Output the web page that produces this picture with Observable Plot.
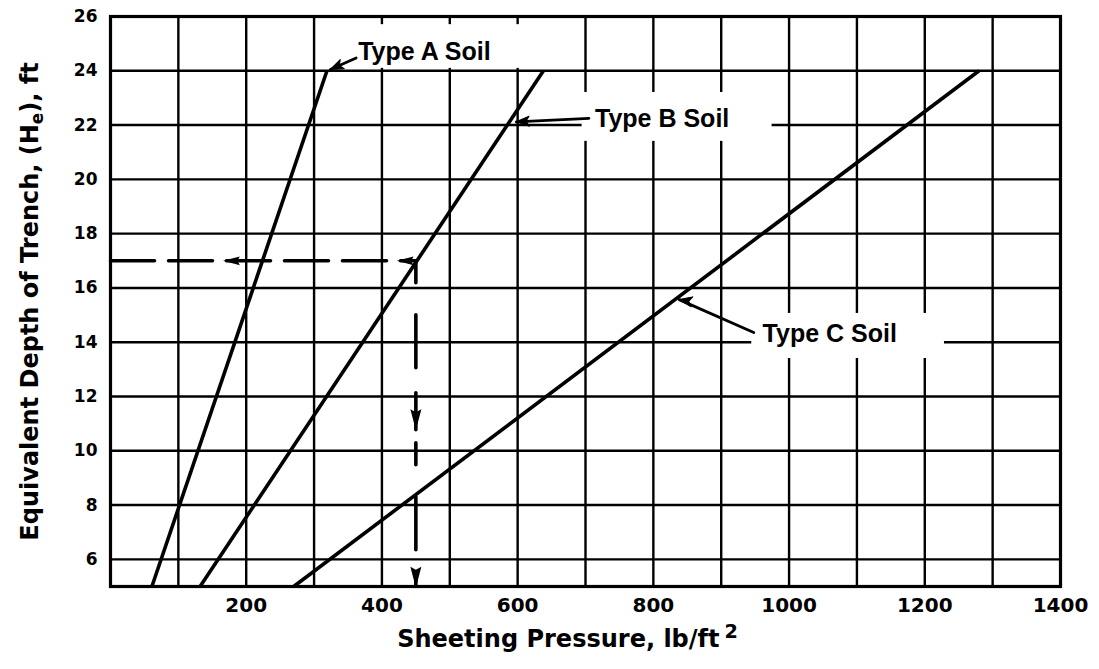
<!DOCTYPE html>
<html>
<head>
<meta charset="utf-8">
<script src="https://cdn.jsdelivr.net/npm/d3@7"></script>
<script src="https://cdn.jsdelivr.net/npm/@observablehq/plot@0.6"></script>
<style>
  html, body { margin: 0; padding: 0; background: #fff; }
</style>
</head>
<body>
<div id="chart"></div>
<script>
// ---- data ----
const soilTypes = ["Type A Soil", "Type B Soil", "Type C Soil"];
const depthEnds = [5, 24];                 // ft, each soil line runs between these depths
const pressureA = [61, 319];               // lb/ft² at depth 5 and 24
const pressureB = [132, 638];
const pressureC = [270, 1280];

const xTicks = [200, 400, 600, 800, 1000, 1200, 1400];
const yTicks = [6, 8, 10, 12, 14, 16, 18, 20, 22, 24, 26];
const xGrid = d3.range(100, 1400, 100);
const yGrid = d3.range(6, 26, 2);

// worked example (dashed)
const exampleDepth = 17;
const examplePressure = 450;
const leftArrowPressures = [180, 436];
const downArrowDepths = [11.2, 5.4];

// label anchors (data units) and leader lines
const labelX = [365, 714, 961];
const labelY = [24.71, 22.24, 14.32];
const leaderFromX = [362, 705, 948];
const leaderFromY = [24.47, 22.25, 14.36];
const leaderToX = [324, 598, 838];
const leaderToY = [24.05, 22.12, 15.57];
const leaderBend = [0, 0, 14];
// white backing boxes behind labels (data units)
const boxX1 = [339, 695, 945];
const boxX2 = [662, 975, 1229];
const boxY1 = [24.09, 21.4, 13.4];
const boxY2 = [25.7, 23.2, 15.06];

const xTitleMain = "Sheeting Pressure, lb/ft";
const xTitleSup = "2";
const yTitleParts = ["Equivalent Depth of Trench, (H", "e", "), ft"];

// ---- build tables ----
const pressures = [pressureA, pressureB, pressureC];
const soilLines = soilTypes.flatMap((s, i) =>
  depthEnds.map((d, j) => ({soil: s, depth: d, pressure: pressures[i][j]})));
const labels = soilTypes.map((s, i) => ({text: s, x: labelX[i], y: labelY[i]}));
const leaders = soilTypes.map((s, i) => ({
  x1: leaderFromX[i], y1: leaderFromY[i], x2: leaderToX[i], y2: leaderToY[i], bend: leaderBend[i]}));
const boxes = boxX1.map((v, i) => ({x1: v, x2: boxX2[i], y1: boxY1[i], y2: boxY2[i]}));
const dashH = [{p: 0, d: exampleDepth}, {p: examplePressure, d: exampleDepth}];
const dashV = [{p: examplePressure, d: exampleDepth}, {p: examplePressure, d: 5}];
const leftArrows = leftArrowPressures.map(p => ({p, d: exampleDepth}));
const downArrows = downArrowDepths.map(d => ({p: examplePressure, d}));

function arrowSymbol(dir) {
  return {
    draw(ctx, size) {
      const r = Math.sqrt(size / Math.PI);
      const pts = [[0, -1.2 * r], [0.55 * r, 0.9 * r], [0, 0.6 * r], [-0.55 * r, 0.9 * r]];
      const rot = dir === "left" ? ([x, y]) => [y, -x] : ([x, y]) => [-x, -y];
      const q = pts.map(rot);
      ctx.moveTo(q[0][0], q[0][1]);
      for (let k = 1; k < q.length; k++) ctx.lineTo(q[k][0], q[k][1]);
      ctx.closePath();
    }
  };
}
// filled arrowhead for leaders: tip at the anchor, body extends along the vector
const headShape = {
  draw(ctx, l, r) {
    ctx.moveTo(0, 0);
    ctx.lineTo(r, -l);
    ctx.lineTo(0, -0.75 * l);
    ctx.lineTo(-r, -l);
    ctx.closePath();
  }
};

const font = "DejaVu Sans, Liberation Sans, Arial, sans-serif";

const layout = {
  width: 1099,
  height: 669,
  marginTop: 16,
  marginRight: 39,
  marginBottom: 83,
  marginLeft: 110,
  style: {background: "#fff", color: "#000", fontFamily: font},
  x: {domain: [0, 1400]},
  y: {domain: [5, 26]}
};

const baseMarks = [
  Plot.gridX(xGrid, {stroke: "#000", strokeOpacity: 1, strokeWidth: 2.4}),
  Plot.gridY(yGrid, {stroke: "#000", strokeOpacity: 1, strokeWidth: 2.4}),
  Plot.rect(boxes, {x1: "x1", x2: "x2", y1: "y1", y2: "y2", fill: "#fff"}),
  Plot.frame({stroke: "#000", strokeWidth: 3.2}),
  Plot.axisX({ticks: xTicks, tickSize: 0, tickPadding: 11, tickFormat: d => String(d),
    label: null, fontSize: 20, fontWeight: "bold", fontFamily: font}),
  Plot.axisY({ticks: yTicks, tickSize: 0, tickPadding: 13, tickFormat: d => String(d),
    label: null, fontSize: 17, fontWeight: "bold", fontFamily: font}),
  Plot.line(soilLines, {x: "pressure", y: "depth", z: "soil", stroke: "#000", strokeWidth: 3.6, strokeLinecap: "butt"}),
  Plot.line(dashH, {x: "p", y: "d", stroke: "#000", strokeWidth: 3.6, strokeDasharray: "44,14"}),
  Plot.line(dashV, {x: "p", y: "d", stroke: "#000", strokeWidth: 3.6, strokeDasharray: "22,32,53,25,37,13"}),
  Plot.dot(leftArrows, {x: "p", y: "d", r: 8, symbol: arrowSymbol("left"), fill: "#000", stroke: "none"}),
  Plot.dot(downArrows, {x: "p", y: "d", r: 10, symbol: arrowSymbol("down"), fill: "#000", stroke: "none"}),
  Plot.arrow(leaders, {x1: "x1", y1: "y1", x2: "x2", y2: "y2", bend: d => d.bend,
    stroke: "#000", strokeWidth: 2.8, headLength: 0}),
  Plot.text(labels, {x: "x", y: "y", text: "text", textAnchor: "start", fontSize: 25,
    fontWeight: "bold", fontFamily: "Liberation Sans, Arial, sans-serif", fill: "#000"}),
  Plot.text([xTitleMain], {text: d => d, frameAnchor: "bottom", textAnchor: "middle", dy: 60, dx: -18, fontSize: 24,
    fontWeight: "bold", fontFamily: font, fill: "#000"}),
  Plot.text([yTitleParts.join("")], {text: d => d, frameAnchor: "left", textAnchor: "middle", rotate: -90, dx: -80, fontSize: 24,
    fontWeight: "bold", fontFamily: font, fill: "#000"})
];

// first pass: get the library's scales to orient the leader arrowheads
const probe = Plot.plot({...layout, marks: baseMarks});
const sx = probe.scale("x"), sy = probe.scale("y");
const heads = leaders.map(l => {
  const dx = sx.apply(l.x1) - sx.apply(l.x2);
  const dy = sy.apply(l.y1) - sy.apply(l.y2);
  return {x: l.x2, y: l.y2, angle: Math.atan2(dx, -dy) * 180 / Math.PI - l.bend};
});

const chart = Plot.plot({...layout, marks: [
  ...baseMarks,
  Plot.vector(heads, {x: "x", y: "y", rotate: "angle", length: 13, r: 5, anchor: "start",
    shape: headShape, fill: "#000", stroke: "#000", strokeWidth: 1})
]});

// superscript / subscript in the axis titles
d3.select(chart).selectAll("text").each(function () {
  const t = d3.select(this);
  const s = this.textContent;
  if (s === xTitleMain) {
    t.text(null);
    t.append("tspan").text(xTitleMain);
    t.append("tspan").attr("dx", "5").attr("dy", "-0.45em").attr("font-size", "0.8em").text(xTitleSup);
  } else if (s === yTitleParts.join("")) {
    t.text(null);
    t.append("tspan").text(yTitleParts[0]);
    t.append("tspan").attr("dy", "0.3em").attr("font-size", "0.7em").text(yTitleParts[1]);
    t.append("tspan").attr("dy", "-0.21em").text(yTitleParts[2]);
  }
});

document.getElementById("chart").appendChild(chart);
</script>
</body>
</html>
